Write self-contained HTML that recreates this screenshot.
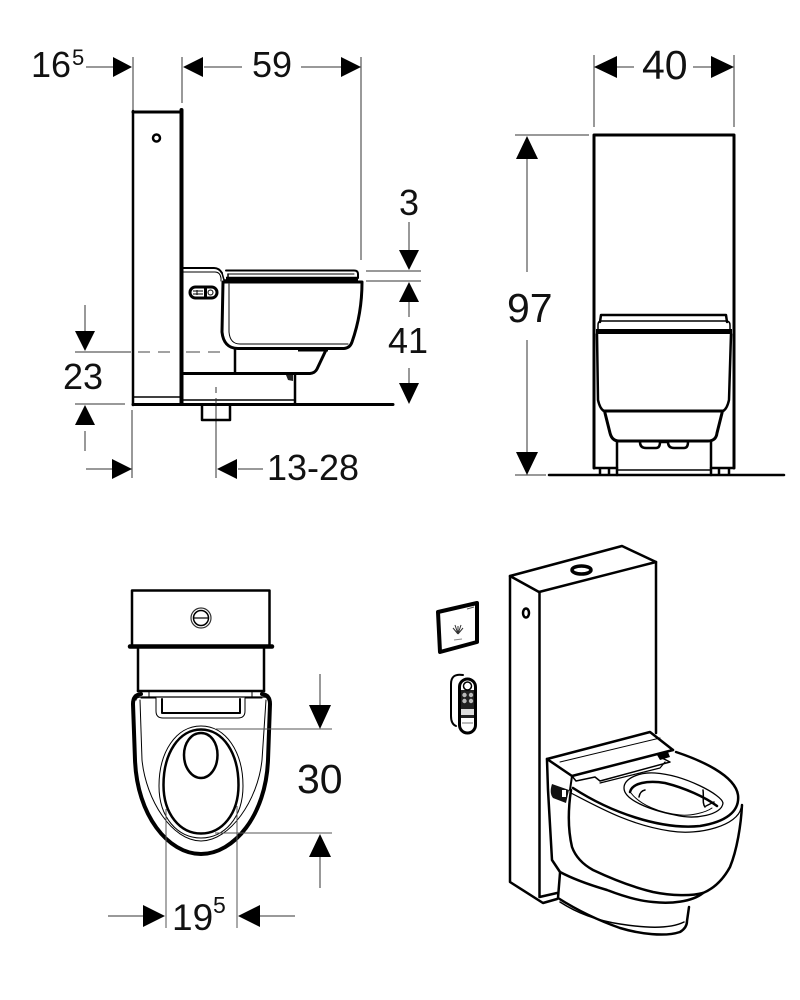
<!DOCTYPE html>
<html><head><meta charset="utf-8"><style>
html,body{margin:0;padding:0;background:#fff}
svg{display:block}
text{font-family:"Liberation Sans",sans-serif;fill:#111}
.k{fill:none;stroke:#000;stroke-linecap:round;stroke-linejoin:round}
.d{fill:none;stroke:#333;stroke-width:1}
.g{fill:none;stroke:#555;stroke-width:1}
</style></head><body>
<svg width="800" height="1000" viewBox="0 0 800 1000" xmlns="http://www.w3.org/2000/svg">
<rect width="800" height="1000" fill="#fff"/>

<!-- SIDE VIEW dimensions -->
<text x="31" y="77" font-size="36">16</text><text x="72" y="65" font-size="22">5</text>
<path class="d" d="M86 67H113M133 57V111M182 57V103M361 57V260M204 67H242M301 67H341M75 352H131"/>
<path d="M132 67L113 57V77ZM183 67L203 57V77ZM361 67L341 57V77Z" fill="#000"/>
<text x="252" y="77" font-size="36">59</text>
<text x="399" y="215" font-size="36">3</text>
<path class="d" d="M409 222V251M366 271H421M366 281H421M409 300V317M409 368V384"/>
<path d="M409 270L399 250H419ZM409 282L399 302H419ZM409 404L399 383H419Z" fill="#000"/>
<text x="388" y="353" font-size="36">41</text>
<path class="d" d="M85 305V331M85 431V451"/>
<path d="M85 351L75 331H95ZM85 405L75 425H95Z" fill="#000"/>
<text x="63" y="389" font-size="36">23</text>
<path class="d" d="M75 404H125M132 410V478M86 469H113M216 404V478M238 469H263"/>
<path d="M132 469L112 459V479ZM217 469L237 459V479Z" fill="#000"/>
<text x="267" y="480" font-size="36">13-28</text>
<path d="M138 352H150M158 352H170M186 352H200M208 352H220" stroke="#444" stroke-width="1" fill="none"/>

<!-- SIDE VIEW object -->
<path class="k" stroke-width="2.500" d="M133 111V405"/>
<path class="k" stroke-width="3" d="M133 112H181"/>
<path class="k" stroke-width="4" d="M181.500 110V404"/>
<path class="k" stroke-width="1.500" d="M134 397H181"/>
<circle cx="156.500" cy="138" r="3.500" fill="none" stroke="#000" stroke-width="2.500"/>
<path class="k" stroke-width="3" d="M133 404.500H393"/>
<path class="k" stroke-width="2" d="M183 268H214Q219 268 222 273"/>
<path class="k" stroke-width="1" d="M183 272H215Q220 272 221 278V281"/>
<path class="k" stroke-width="2" d="M226 270.500H354Q358 270.500 358 274V278"/>
<path class="k" stroke-width="1" d="M228 274H354"/>
<path stroke="#000" stroke-width="4.500" d="M226 279H358" fill="none"/>
<path class="k" stroke-width="1.500" d="M222 273L224 280 228 280V274"/>
<path class="k" stroke-width="3" d="M223 282H362C362 305 358 325 352 342Q350 348 344 348.500H238C228 348.500 223 342 222 332Z"/>
<path class="k" stroke-width="1" d="M229 284V332Q230 344 240 344H348"/>
<rect x="190" y="287" width="27" height="11" rx="5.500" fill="#fff" stroke="#000" stroke-width="3"/>
<path d="M193 291H203M193 294H203M197 290V295" stroke="#000" stroke-width="1" fill="none"/>
<path d="M204 288H207V297H204Z" fill="#000"/><circle cx="210.500" cy="292.500" r="2.500" fill="#fff" stroke="#000" stroke-width="1"/>
<path class="k" stroke-width="2.500" d="M235 349V373"/>
<path class="k" stroke-width="3" d="M182 373.500H310Q315 373 317 369L326 350"/>
<path d="M298 349H328V351.500H298Z" fill="#000"/>
<path class="k" stroke-width="2.500" d="M295 375V404"/>
<path class="k" stroke-width="1.500" d="M183 400H294"/>
<path d="M286 375L293 375 293 381 288 380Z" fill="#222"/>
<path class="k" stroke-width="2.500" d="M202 405V420H230V405"/>
<path d="M216 387V393M216 398V404" stroke="#333" fill="none"/>

<!-- FRONT VIEW -->
<path class="d" d="M594 55V127M734 55V127M616 67H634M693 67H712M515 135H589M527 159V272M527 340V452M515 475H546"/>
<path d="M594 67L617 56V78ZM734 67L711 56V78ZM527 136L516 159H538ZM527 475L516 452H538Z" fill="#000"/>
<text x="642" y="79" font-size="41">40</text>
<text x="507" y="322" font-size="41">97</text>
<path class="k" stroke-width="3" d="M594 468V135H734V468"/>
<path class="k" stroke-width="2.500" d="M549 475H784"/>
<path class="k" stroke-width="2.500" d="M600 322L601 315H726L727 322"/>
<path class="k" stroke-width="1.500" d="M598 329V325Q598 321 601 321H726Q730 321 730 325V329"/>
<path d="M596 331.500H732" stroke="#000" stroke-width="5" fill="none"/>
<path class="k" stroke-width="2.500" d="M597 334L598 400Q600 409 604 411M731 334L729 400Q727 409 723 411"/>
<path class="k" stroke-width="3" d="M604 411H723"/>
<path class="k" stroke-width="3" d="M605 413L610 433Q612 441 619 441H708Q716 441 717 433L722 413"/>
<path class="k" stroke-width="2.500" d="M617 441V475M711 441V475"/>
<path class="k" stroke-width="1.500" d="M618 470H710"/>
<path class="k" stroke-width="2.500" d="M600 468V474M609 468V474M719 468V474M729 468V474M594 468H617M711 468H734"/>
<path class="k" stroke-width="2.500" d="M640 442Q640 448 646 448H656Q660 448 660 442M668 442Q668 448 674 448H684Q688 448 688 442M661 442H668"/>

<!-- TOP VIEW -->
<path class="k" stroke-width="2.500" d="M132 645V590.500H269.500V645"/>
<path d="M130 646.500H272" stroke="#000" stroke-width="4.500" fill="none" stroke-linecap="round"/>
<circle cx="201" cy="618" r="10" fill="none" stroke="#333" stroke-width="1.200"/>
<circle cx="201" cy="618" r="7.500" fill="none" stroke="#000" stroke-width="1.500"/>
<path d="M194 618H208" stroke="#000" stroke-width="1.200"/>
<path class="k" stroke-width="2.500" d="M138 649V691M264 649V691"/>
<path class="k" stroke-width="2.500" d="M138 691H264"/>
<path class="k" stroke-width="4" d="M141 694Q133 695 133 704L135 760C137 815 168 854 201 854C234 854 266 815 268 760L270 704Q270 695 262 694"/>
<path class="k" stroke-width="1.200" d="M136 700Q136 697 141 697H264Q268 697 268 700"/>
<path class="k" stroke-width="1" d="M140 700L142 760C146 800 172 841 201 841C230 841 258 800 262 760L266 700"/>
<path class="k" stroke-width="1" d="M149 692V697M252 692V697"/>
<path class="k" stroke-width="1" d="M141 698H156V711Q156 718 163 718H238Q245 718 245 711V698H262"/>
<path class="k" stroke-width="2" d="M162 699V713H240V699"/>
<path class="k" stroke-width="1" d="M201 726C226 726 243 752 243 786C243 818 224 838 201 838C178 838 159 818 159 786C159 752 176 726 201 726Z"/>
<path class="k" stroke-width="2.500" d="M201 729.500C223 729.500 238.500 753 238.500 785C238.500 814 222 833.500 201 833.500C180 833.500 163.500 814 163.500 785C163.500 753 179 729.500 201 729.500Z"/>
<path class="k" stroke-width="2.500" d="M201 733C211 733 217.500 743 217.500 755C217.500 768 210 778 201 778C192 778 184 768 184 755C184 743 191 733 201 733Z"/>
<path class="g" d="M216 729H332M215 833H332M166 809V928M237 806V928"/>
<path class="d" d="M320 674V705M320 857V888M108 916H143M260 916H295"/>
<path d="M320 729L309 705H331ZM320 834L309 857H331ZM165 916L143 905V927ZM238 916L260 905V927Z" fill="#000"/>
<text x="297" y="793" font-size="41">30</text>
<text x="172" y="930" font-size="37">19</text><text x="213" y="913" font-size="23">5</text>

<!-- ISO VIEW: panel -->
<path class="k" stroke-width="2.500" d="M510 576L622 546 656 562M510 576L539 592 656 562"/>
<path class="k" stroke-width="2.500" d="M510 576V882L543 903 557 899"/>
<path class="k" stroke-width="2.500" d="M539.500 592V897L557 893"/>
<path class="k" stroke-width="2.500" d="M656 562V733"/>
<ellipse cx="581.500" cy="570" rx="9.500" ry="4" fill="#fff" stroke="#000" stroke-width="3.500"/>
<ellipse cx="526" cy="613" rx="3" ry="4.500" fill="#fff" stroke="#000" stroke-width="2.500"/>
<!-- pedestal -->
<path class="k" stroke-width="2.500" d="M560 873L558 898C580 912 600 921 620 928 640 934 665 937 680 932 685 929 687 925 687 921L689 907"/>
<path class="k" stroke-width="1.500" d="M560 902C580 915 600 921 620 924 645 928 670 929 684 922"/>
<!-- bowl body -->
<path class="k" stroke-width="2.500" d="M547 760L548 790 552 860 560 872C575 880 590 885 607 890 625 897 640 901 653 902 670 904 692 902 703 893"/>
<path class="k" stroke-width="2.500" d="M571 790C568 810 568 830 572 847 576 858 584 865 593 870 610 878 632 887 653 892 672 896 692 896 703 893 715 888 724 878 730 867 737 850 741 825 742 805"/>
<!-- seat -->
<path class="k" stroke-width="2.500" d="M676 752C700 760 735 775 738 795 740 812 725 822 700 826 660 830 610 812 573 788"/>
<path class="k" stroke-width="1.200" d="M741 808C738 825 700 836 670 831 630 825 600 808 571 793"/>
<path class="k" stroke-width="1.300" d="M624 788C624 778 640 772 655 773 685 775 722 795 723 803 722 815 695 820 675 815 650 810 624 800 624 788Z"/>
<path class="k" stroke-width="2.500" d="M630 792C632 783 648 780 665 783 685 788 705 797 717 806"/>
<path class="k" stroke-width="1" d="M631 793C640 805 660 813 680 815 690 816 705 813 712 808"/>
<path class="k" stroke-width="1.500" d="M639 797Q640 791 645 790M703 790C704 797 702 803 705 807M706 806L714 802"/>
<!-- lid -->
<path class="k" stroke-width="2.500" d="M547 759L650 732 673 750"/>
<path class="k" stroke-width="2.500" d="M547 759L572 776 673 750"/>
<path class="k" stroke-width="1" d="M560 762L660 738"/>
<path class="k" stroke-width="1.500" d="M572 776L576 781 595 777 600 781 670 762 662 758"/>
<path class="k" stroke-width="1.200" d="M600 783L660 768 665 762"/>
<path d="M657 755L668 752 670 757 660 760Z" fill="#000"/>
<path class="k" stroke-width="2" d="M572 776L570 790"/>
<!-- control -->
<path d="M552 784Q549 793 553 798L566 803 569 790Z" fill="#111"/>
<rect x="562" y="790" width="4" height="7" fill="#fff"/>
<!-- wall panel -->
<path class="k" stroke-width="4" d="M438 612L477 603V642L440 652Z"/>
<path stroke="#333" stroke-width="1" fill="none" d="M458 634V626M458 634L455 625M458 634L461 625M458 634L453 628M458 634L463 628"/>
<path d="M454 640L462 639" stroke="#888" stroke-width="1" fill="none"/>
<path d="M467 609L474 607" stroke="#555" stroke-width="1" fill="none"/>
<!-- remote -->
<path class="k" stroke-width="2" d="M463 675Q451 673 451 684V716Q451 724 456 726"/>
<rect x="459.500" y="679" width="16" height="54" rx="8" fill="#fff" stroke="#000" stroke-width="3"/>
<path d="M461 690H474V718H461Z" fill="#222"/>
<circle cx="467.500" cy="686" r="4" fill="#fff" stroke="#000" stroke-width="1.500"/>
<circle cx="464.500" cy="695" r="2.200" fill="#bbb"/><circle cx="471" cy="695" r="2.200" fill="#bbb"/>
<circle cx="464.500" cy="701" r="2.200" fill="#bbb"/><circle cx="471" cy="701" r="2.200" fill="#bbb"/>
<path d="M461 709H474V715H461Z" fill="#ddd"/>
<path d="M462 723H473" stroke="#777" fill="none"/>
</svg>
</body></html>
